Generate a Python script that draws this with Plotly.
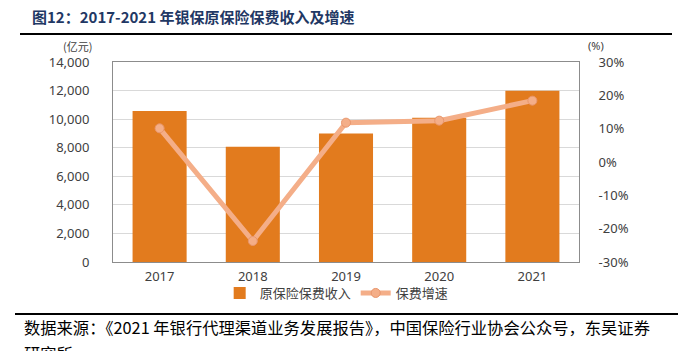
import plotly.graph_objects as go

years = ["2017", "2018", "2019", "2020", "2021"]
premium = [10570, 8070, 9000, 10100, 11990]
growth = [10.1, -23.7, 11.8, 12.4, 18.4]

left_ticks = [0, 2000, 4000, 6000, 8000, 10000, 12000, 14000]
left_labels = ["0", "2,000", "4,000", "6,000", "8,000", "10,000", "12,000", "14,000"]
right_ticks = [-30, -20, -10, 0, 10, 20, 30]
right_labels = ["-30%", "-20%", "-10%", "0%", "10%", "20%", "30%"]

title_text = "图12：2017-2021 年银保原保险保费收入及增速"
source_text = "数据来源：《2021 年银行代理渠道业务发展报告》，中国保险行业协会公众号，东吴证券"
source_text2 = "研究所"

font_sans = "Noto Sans, DejaVu Sans, sans-serif"
font_cjk = "Noto Sans CJK SC"

fig = go.Figure()
fig.add_trace(go.Bar(
    x=years, y=premium, name="原保险保费收入",
    marker=dict(color="#E27B1E", line=dict(width=0)),
    yaxis="y",
))
fig.add_trace(go.Scatter(
    x=years, y=growth, name="保费增速", mode="lines+markers",
    line=dict(color="#F4AE88", width=5),
    marker=dict(size=9, color="#F4AE88", line=dict(color="#E9966C", width=1)),
    yaxis="y2",
))

fig.update_layout(
    width=678, height=351,
    margin=dict(l=113, r=99, t=62, b=89),
    paper_bgcolor="white", plot_bgcolor="white",
    bargap=0.42,
    showlegend=True,
    legend=dict(orientation="h", x=0.48, xanchor="center", y=-0.155, yanchor="middle",
                bgcolor="rgba(0,0,0,0)",
                font=dict(family=font_cjk, size=13, color="#404040"),
                itemwidth=30, tracegroupgap=0),
    xaxis=dict(showgrid=False, showline=True, linecolor="#8C8C8C", linewidth=1, mirror=True,
               tickfont=dict(family=font_sans, size=13, color="#404040"), ticks="",
               ticklabelstandoff=2),
    yaxis=dict(range=[0, 14000], tickvals=left_ticks, ticktext=left_labels,
               showgrid=True, gridcolor="#D9D9D9", gridwidth=1,
               showline=True, linecolor="#8C8C8C", linewidth=1, zeroline=False,
               tickfont=dict(family=font_sans, size=13, color="#404040"),
               ticklabelstandoff=20),
    yaxis2=dict(range=[-30, 30], tickvals=right_ticks, ticktext=right_labels,
                overlaying="y", side="right", showgrid=False, zeroline=False,
                showline=True, linecolor="#8C8C8C", linewidth=1,
                tickfont=dict(family=font_sans, size=13, color="#404040"),
                ticklabelstandoff=16),
)

fig.add_annotation(text=title_text, xref="paper", yref="paper",
                   x=(30 - 113) / 466, y=(262 - 16) / 200, xanchor="left", yanchor="middle",
                   showarrow=False, font=dict(family=font_cjk, size=15, color="#1F3864", weight="bold"))
fig.add_annotation(text="(亿元)", xref="paper", yref="paper",
                   x=(94 - 113) / 466, y=(262 - 46) / 200, xanchor="right", yanchor="middle",
                   showarrow=False, font=dict(family=font_cjk, size=11, color="#404040"))
fig.add_annotation(text="(%)", xref="paper", yref="paper",
                   x=(586 - 113) / 466, y=(262 - 46) / 200, xanchor="left", yanchor="middle",
                   showarrow=False, font=dict(family=font_sans, size=11, color="#404040"))
fig.add_annotation(text=source_text, xref="paper", yref="paper",
                   x=(22 - 113) / 466, y=(262 - 327) / 200, xanchor="left", yanchor="middle",
                   showarrow=False, font=dict(family=font_cjk, size=16.3, color="#000000"))
fig.add_annotation(text=source_text2, xref="paper", yref="paper",
                   x=(22 - 113) / 466, y=(262 - 353) / 200, xanchor="left", yanchor="middle",
                   showarrow=False, font=dict(family=font_cjk, size=16.3, color="#000000"))

fig.add_shape(type="line", xref="paper", yref="paper",
              x0=(20 - 113) / 466, x1=(672 - 113) / 466, y0=(262 - 34) / 200, y1=(262 - 34) / 200,
              line=dict(color="#000000", width=2))
fig.add_shape(type="line", xref="paper", yref="paper",
              x0=(15 - 113) / 466, x1=(678 - 113) / 466, y0=(262 - 314) / 200, y1=(262 - 314) / 200,
              line=dict(color="#000000", width=2))

fig.write_html("out.html")
